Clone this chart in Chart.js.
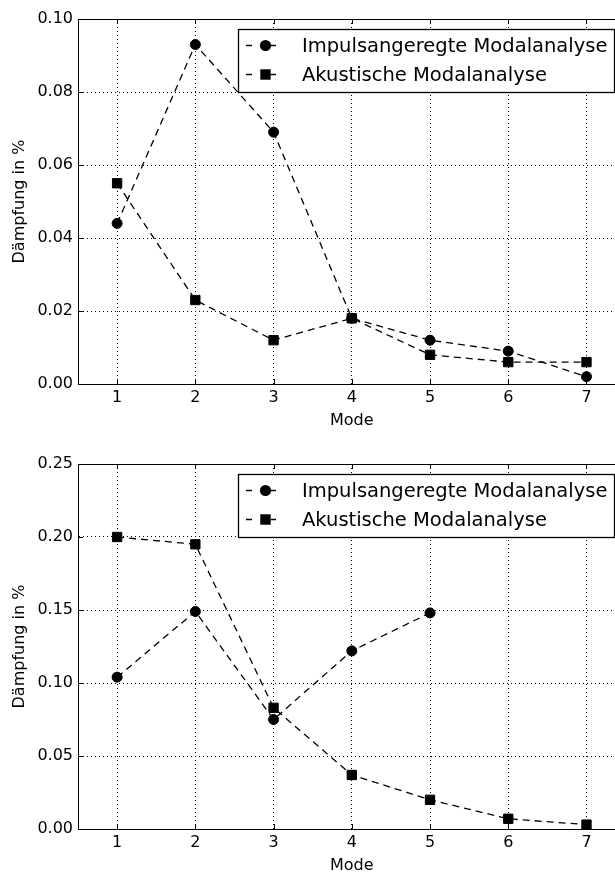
<!DOCTYPE html>
<html>
<head>
<meta charset="utf-8">
<script src="https://cdn.jsdelivr.net/npm/chart.js@4.4.1/dist/chart.umd.min.js"></script>
<style>
  html, body { margin: 0; padding: 0; background: #fff; overflow: hidden; width: 615px; height: 872px; }
  canvas { position: absolute; left: 0; }
  #c1 { top: 0; }
  #c2 { top: 445px; }
</style>
</head>
<body>
<canvas id="c1" width="640" height="445"></canvas>
<canvas id="c2" width="640" height="445"></canvas>
<script>
// data
const modes = [1, 2, 3, 4, 5, 6, 7];
const seriesNames = ["Impulsangeregte Modalanalyse", "Akustische Modalanalyse"];

const impulsTop = [0.044, 0.093, 0.069, 0.018, 0.012, 0.009, 0.002];
const akustikTop = [0.055, 0.023, 0.012, 0.018, 0.008, 0.006, 0.006];
const yTicksTop = [0.00, 0.02, 0.04, 0.06, 0.08, 0.10];

const impulsBottom = [0.104, 0.149, 0.075, 0.122, 0.148, null, null];
const akustikBottom = [0.200, 0.195, 0.083, 0.037, 0.020, 0.007, 0.003];
const yTicksBottom = [0.00, 0.05, 0.10, 0.15, 0.20, 0.25];

const FONT = "DejaVu Sans";

const toPoints = vals => modes
  .map((m, i) => ({ x: m, y: vals[i] }))
  .filter(p => p.y !== null);

// box, inward ticks and a matplotlib-style legend
const framePlugin = {
  id: "frame",
  afterDraw(chart) {
    const { ctx, chartArea: a, scales: { x, y } } = chart;
    const al = v => Math.round(v) + 0.5;
    ctx.save();
    ctx.strokeStyle = "#000";
    ctx.lineWidth = 1;
    ctx.setLineDash([]);
    ctx.strokeRect(al(a.left), al(a.top), Math.round(a.right - a.left), Math.round(a.bottom - a.top));

    ctx.beginPath();
    x.ticks.forEach(t => {
      const px = al(x.getPixelForValue(t.value));
      ctx.moveTo(px, a.bottom); ctx.lineTo(px, a.bottom - 5);
      ctx.moveTo(px, a.top); ctx.lineTo(px, a.top + 5);
    });
    y.ticks.forEach(t => {
      const py = al(y.getPixelForValue(t.value));
      ctx.moveTo(a.left, py); ctx.lineTo(a.left + 5, py);
      ctx.moveTo(a.right, py); ctx.lineTo(a.right - 5, py);
    });
    ctx.stroke();

    // legend
    ctx.font = `19.5px "${FONT}"`;
    const textW = Math.max(...seriesNames.map(n => ctx.measureText(n).width));
    const bw = Math.round(64 + textW + 7);
    const bh = 63;
    const bx = Math.round(a.right - 11.6 - bw);
    const by = Math.round(a.top + 10);
    ctx.fillStyle = "#fff";
    ctx.fillRect(bx, by, bw, bh);
    ctx.lineWidth = 1.3;
    ctx.strokeRect(bx + 0.5, by + 0.5, bw, bh);

    chart.data.datasets.forEach((ds, i) => {
      const cy = Math.round(by + 16 + i * 28.7) + 0.5;
      ctx.beginPath();
      ctx.moveTo(bx + 8, cy); ctx.lineTo(bx + 14, cy);
      ctx.moveTo(bx + 33, cy); ctx.lineTo(bx + 38, cy);
      ctx.stroke();
      ctx.fillStyle = "#000";
      const mx = bx + 27.5;
      if (ds.pointStyle === "rect") {
        ctx.fillRect(mx - 5.2, cy - 5.2, 10.4, 10.4);
      } else {
        ctx.beginPath();
        ctx.arc(mx, cy, 5.6, 0, Math.PI * 2);
        ctx.fill();
      }
      ctx.textBaseline = "middle";
      ctx.textAlign = "left";
      ctx.fillText(ds.label, bx + 64, cy + 1);
    });
    ctx.restore();
  }
};

function makeChart(id, impuls, akustik, yTicks) {
  return new Chart(document.getElementById(id), {
    type: "line",
    data: {
      datasets: [
        {
          label: seriesNames[0],
          data: toPoints(impuls),
          borderColor: "#000",
          backgroundColor: "#000",
          borderWidth: 1.3,
          borderDash: [7, 5],
          pointStyle: "circle",
          pointRadius: 5,
          pointBorderWidth: 1,
          pointBorderColor: "#000",
          pointBackgroundColor: "#000",
          tension: 0,
          order: 1
        },
        {
          label: seriesNames[1],
          data: toPoints(akustik),
          borderColor: "#000",
          backgroundColor: "#000",
          borderWidth: 1.3,
          borderDash: [7, 5],
          pointStyle: "rect",
          pointRadius: 6.6,
          pointBorderWidth: 1,
          pointBorderColor: "#000",
          pointBackgroundColor: "#000",
          tension: 0,
          order: 0
        }
      ]
    },
    options: {
      responsive: false,
      animation: false,
      events: [],
      layout: { padding: { top: 19, right: 14.4, left: 0, bottom: 0 } },
      plugins: { legend: { display: false }, tooltip: { enabled: false } },
      scales: {
        x: {
          type: "linear",
          min: 0.5,
          max: 7.5,
          afterBuildTicks: s => { s.ticks = modes.map(v => ({ value: v })); },
          afterFit: s => { s.height = 61; },
          grid: { color: "#000", lineWidth: 1, drawTicks: false },
          border: { display: true, color: "#000", width: 1, dash: [1, 3] },
          ticks: {
            color: "#000",
            padding: 4,
            font: { family: FONT, size: 16 },
            callback: v => String(v)
          },
          title: {
            display: true,
            text: "Mode",
            color: "#000",
            font: { family: FONT, size: 16, lineHeight: 1.2 },
            padding: { top: 0, bottom: 14.4 }
          }
        },
        y: {
          min: yTicks[0],
          max: yTicks[yTicks.length - 1],
          afterBuildTicks: s => { s.ticks = yTicks.map(v => ({ value: v })); },
          afterFit: s => { s.width = 78; },
          grid: { color: "#000", lineWidth: 1, drawTicks: false },
          border: { display: true, color: "#000", width: 1, dash: [1, 3] },
          ticks: {
            color: "#000",
            padding: 5,
            font: { family: FONT, size: 16 },
            callback: v => Number(v).toFixed(2)
          },
          title: {
            display: true,
            text: "Dämpfung in %",
            color: "#000",
            font: { family: FONT, size: 16, lineHeight: 1.2 },
            padding: { top: 10.4, bottom: 0 }
          }
        }
      }
    },
    plugins: [framePlugin]
  });
}

makeChart("c1", impulsTop, akustikTop, yTicksTop);
makeChart("c2", impulsBottom, akustikBottom, yTicksBottom);
</script>
</body>
</html>
